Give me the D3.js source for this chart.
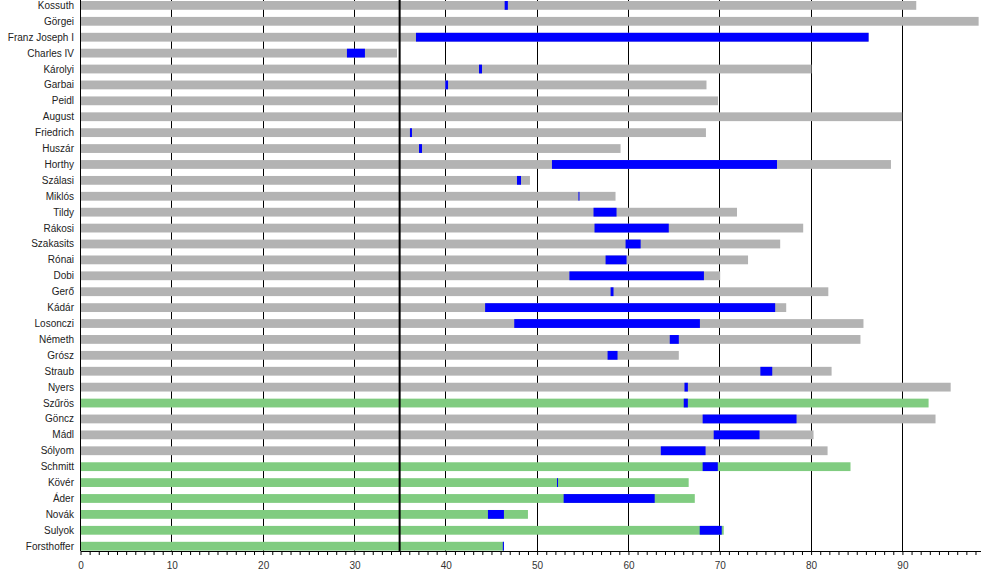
<!DOCTYPE html>
<html>
<head>
    <meta charset="utf-8">
    <title>Hungarian heads of state</title>
    <script src="https://cdn.jsdelivr.net/npm/d3@7"></script>
    <style>
        body { margin: 0; background: #fff; }
        text { font-family: "Liberation Sans", Arial, sans-serif; }
    </style>
</head>
<body>
<div id="chart"></div>
<script>
    // people, top to bottom
    const names = ['Kossuth', 'Görgei', 'Franz Joseph I', 'Charles IV', 'Károlyi', 'Garbai', 'Peidl',
        'August', 'Friedrich', 'Huszár', 'Horthy', 'Szálasi', 'Miklós', 'Tildy', 'Rákosi', 'Szakasits',
        'Rónai', 'Dobi', 'Gerő', 'Kádár', 'Losonczi', 'Németh', 'Grósz', 'Straub', 'Nyers', 'Szűrös',
        'Göncz', 'Mádl', 'Sólyom', 'Schmitt', 'Kövér', 'Áder', 'Novák', 'Sulyok', 'Forsthoffer'];

    // age reached (years)
    const lifeAge = [91.57, 98.4, 86.35, 34.71, 80.1, 68.6, 69.86, 90.03, 68.54, 59.19, 88.8, 49.27,
        58.64, 71.94, 79.19, 76.67, 73.15, 70.1, 81.94, 77.33, 85.79, 85.46, 65.57, 82.3, 95.34, 92.92,
        93.68, 80.32, 81.86, 84.37, 66.65, 67.32, 49.05, 70.49, 46.42];

    // age when taking office / leaving office (null = too short to show)
    const officeStart = [46.5, null, 36.79, 29.23, 43.69, 40.0, null, null, 36.13, 37.12, 51.68, 47.85,
        54.58, 56.23, 56.34, 59.74, 57.55, 53.59, 58.1, 44.36, 47.55, 64.58, 57.77, 74.5, 66.19, 66.11,
        68.18, 69.39, 63.6, 68.18, 52.23, 52.96, 44.67, 67.86, 46.3];
    const officeEnd = [46.85, null, 86.35, 31.2, 44.02, 40.3, null, null, 36.35, 37.45, 76.32, 48.29,
        54.69, 58.75, 64.47, 61.39, 59.85, 68.32, 58.42, 76.12, 67.88, 65.57, 58.86, 75.8, 66.56, 66.56,
        78.46, 74.41, 68.5, 69.84, 52.34, 62.93, 46.42, 70.27, 46.42];

    // still living
    const living = ['Szűrös', 'Schmitt', 'Kövér', 'Áder', 'Novák', 'Sulyok', 'Forsthoffer'];

    const gridTicks = [10, 20, 30, 40, 50, 60, 70, 80, 90];
    const markAge = 35;

    const width = 1000;
    const height = 580;
    const axisY = 551;

    const svg = d3.select('#chart')
        .append('svg')
        .attr('width', width)
        .attr('height', height);

    const x = d3.scaleLinear().domain([0, 98.55]).range([80, 980]);
    const y = d3.scaleBand().domain(names).range([1, 550.6]).paddingInner(0.447).paddingOuter(0);

    const rows = names.map((n, i) => ({
        name: n,
        life: lifeAge[i],
        start: officeStart[i],
        end: officeEnd[i],
        alive: living.includes(n)
    }));

    // grid lines behind the bars
    svg.append('g')
        .selectAll('line')
        .data(gridTicks)
        .join('line')
        .attr('x1', d => Math.round(x(d)) + 0.5)
        .attr('x2', d => Math.round(x(d)) + 0.5)
        .attr('y1', 0)
        .attr('y2', axisY)
        .attr('stroke', '#000')
        .attr('stroke-width', 1);

    // life bars
    svg.append('g')
        .selectAll('rect')
        .data(rows)
        .join('rect')
        .attr('x', x(0))
        .attr('y', d => y(d.name))
        .attr('width', d => x(d.life) - x(0))
        .attr('height', y.bandwidth())
        .attr('fill', d => d.alive ? '#80cc80' : '#b3b3b3');

    // time in office
    svg.append('g')
        .selectAll('rect')
        .data(rows.filter(d => d.start !== null))
        .join('rect')
        .attr('x', d => x(d.start))
        .attr('y', d => y(d.name))
        .attr('width', d => Math.max(1, x(d.end) - x(d.start)))
        .attr('height', y.bandwidth())
        .attr('fill', '#0000ff');

    // left edge line
    svg.append('line')
        .attr('x1', x(0) + 0.5).attr('x2', x(0) + 0.5)
        .attr('y1', 0).attr('y2', axisY)
        .attr('stroke', '#000');

    // age 35 marker
    svg.append('line')
        .attr('x1', x(markAge)).attr('x2', x(markAge))
        .attr('y1', 0).attr('y2', axisY)
        .attr('stroke', '#000')
        .attr('stroke-width', 2);

    // names
    svg.append('g')
        .selectAll('text')
        .data(rows)
        .join('text')
        .attr('x', 74)
        .attr('y', d => y(d.name) + y.bandwidth() / 2)
        .attr('dy', '0.35em')
        .attr('text-anchor', 'end')
        .attr('font-size', 10)
        .attr('fill', '#222')
        .text(d => d.name);

    // x axis
    const axis = d3.axisBottom(x)
        .tickValues(d3.range(0, 99, 1))
        .tickSize(4)
        .tickSizeOuter(0)
        .tickFormat(d => d % 10 === 0 ? d : '');

    const gx = svg.append('g')
        .attr('transform', `translate(0.5,${axisY})`)
        .call(axis);
    gx.selectAll('text')
        .attr('font-size', 10)
        .attr('fill', '#333')
        .attr('dy', '1.1em')
        .style('font-family', '"Liberation Sans", Arial, sans-serif');
    gx.select('.domain').attr('stroke', '#000');
    gx.selectAll('.tick line').attr('stroke', '#000');
</script>
</body>
</html>
